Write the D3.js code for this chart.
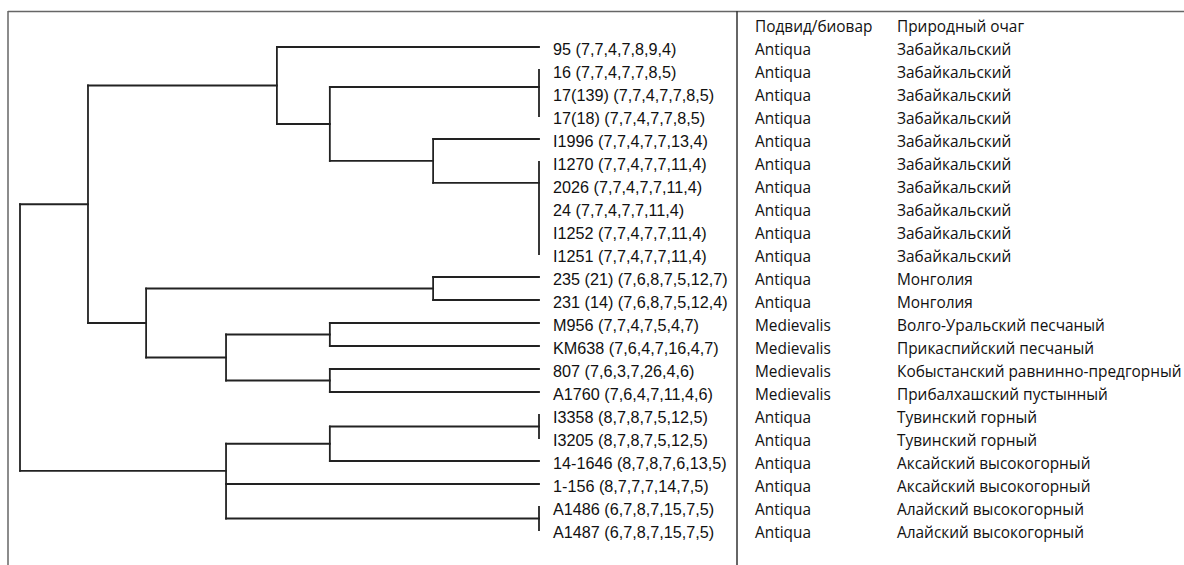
<!DOCTYPE html>
<html>
<head>
<meta charset="utf-8">
<script src="https://cdn.jsdelivr.net/npm/d3@7/dist/d3.min.js"></script>
<style>
html,body{margin:0;padding:0;background:#fff;}
svg{display:block;}
</style>
</head>
<body>
<svg id="chart" width="1184" height="565"></svg>
<script>
// ---------- DATA ----------
const rowLabels = [
  "95 (7,7,4,7,8,9,4)", "16 (7,7,4,7,7,8,5)", "17(139) (7,7,4,7,7,8,5)", "17(18) (7,7,4,7,7,8,5)",
  "I1996 (7,7,4,7,7,13,4)", "I1270 (7,7,4,7,7,11,4)", "2026 (7,7,4,7,7,11,4)", "24 (7,7,4,7,7,11,4)",
  "I1252 (7,7,4,7,7,11,4)", "I1251 (7,7,4,7,7,11,4)", "235 (21) (7,6,8,7,5,12,7)", "231 (14) (7,6,8,7,5,12,4)",
  "M956 (7,7,4,7,5,4,7)", "KM638 (7,6,4,7,16,4,7)", "807 (7,6,3,7,26,4,6)", "A1760 (7,6,4,7,11,4,6)",
  "I3358 (8,7,8,7,5,12,5)", "I3205 (8,7,8,7,5,12,5)", "14-1646 (8,7,8,7,6,13,5)", "1-156 (8,7,7,7,14,7,5)",
  "A1486 (6,7,8,7,15,7,5)", "A1487 (6,7,8,7,15,7,5)"
];
const subspecies = [
  "Antiqua","Antiqua","Antiqua","Antiqua","Antiqua","Antiqua","Antiqua","Antiqua","Antiqua","Antiqua",
  "Antiqua","Antiqua","Medievalis","Medievalis","Medievalis","Medievalis",
  "Antiqua","Antiqua","Antiqua","Antiqua","Antiqua","Antiqua"
];
const foci = [
  "Забайкальский","Забайкальский","Забайкальский","Забайкальский","Забайкальский",
  "Забайкальский","Забайкальский","Забайкальский","Забайкальский","Забайкальский",
  "Монголия","Монголия",
  "Волго-Уральский песчаный","Прикаспийский песчаный","Кобыстанский равнинно-предгорный","Прибалхашский пустынный",
  "Тувинский горный","Тувинский горный","Аксайский высокогорный","Аксайский высокогорный",
  "Алайский высокогорный","Алайский высокогорный"
];
const columnHeaders = ["Подвид/биовар", "Природный очаг"];

// groups of identical leaves (row ranges) and the row position where the branch attaches
const leafGroups = [
  {id:"g16",   rows:[1,3],   at:1.74},
  {id:"g1270", rows:[5,9],   at:5.91},
  {id:"g3358", rows:[16,17], at:16.5},
  {id:"g1486", rows:[20,21], at:20.5}
];
// internal nodes: relative linkage distance and children (rN = single leaf row N)
const clusters = [
  {id:"root", h:1.000, kids:["A","B"]},
  {id:"A",    h:0.869, kids:["A1","A2"]},
  {id:"A1",   h:0.505, kids:["r0","A1b"]},
  {id:"A1b",  h:0.403, kids:["g16","A1c"]},
  {id:"A1c",  h:0.204, kids:["r4","g1270"]},
  {id:"A2",   h:0.757, kids:["Mon","Med"]},
  {id:"Mon",  h:0.204, kids:["r10","r11"]},
  {id:"Med",  h:0.603, kids:["Med1","Med2"]},
  {id:"Med1", h:0.403, kids:["r12","r13"]},
  {id:"Med2", h:0.403, kids:["r14","r15"]},
  {id:"B",    h:0.603, kids:["B1","r19","g1486"], at:18.43},
  {id:"B1",   h:0.403, kids:["g3358","r18"]}
];

// ---------- LAYOUT ----------
const svg = d3.select("#chart");
const x = d3.scaleLinear().domain([0, 1]).range([539, 20]);
const y = d3.scaleLinear().domain([0, 1]).range([47, 70]); // row index -> px

const lineColor = "#222";
const lw = 1.8;

const byId = new Map(clusters.map(c => [c.id, c]));
const groupById = new Map(leafGroups.map(g => [g.id, g]));

function attach(id) {
  if (id.startsWith("r")) return +id.slice(1);
  if (groupById.has(id)) return groupById.get(id).at;
  const c = byId.get(id);
  if (c.at !== undefined) return c.at;
  const ys = c.kids.map(attach);
  return (d3.min(ys) + d3.max(ys)) / 2;
}
function height(id) {
  if (id.startsWith("r") || groupById.has(id)) return 0;
  return byId.get(id).h;
}

const g = svg.append("g").attr("fill", "none").attr("stroke", lineColor)
  .attr("stroke-width", lw).attr("stroke-linecap", "square");

clusters.forEach(c => {
  const ys = c.kids.map(attach);
  g.append("line").attr("x1", x(c.h)).attr("x2", x(c.h))
    .attr("y1", y(d3.min(ys))).attr("y2", y(d3.max(ys)));
  c.kids.forEach(k => {
    g.append("line").attr("x1", x(c.h)).attr("x2", x(height(k)))
      .attr("y1", y(attach(k))).attr("y2", y(attach(k)));
  });
});
leafGroups.forEach(gr => {
  g.append("line").attr("x1", x(0)).attr("x2", x(0))
    .attr("y1", y(gr.rows[0])).attr("y2", y(gr.rows[1]));
});

// frame
svg.append("line").attr("x1", 8).attr("x2", 1184).attr("y1", 11.5).attr("y2", 11.5)
  .attr("stroke", "#666").attr("stroke-width", 1.5);
svg.append("line").attr("x1", 8).attr("x2", 8).attr("y1", 11).attr("y2", 565)
  .attr("stroke", "#666").attr("stroke-width", 1.5);
svg.append("line").attr("x1", 737).attr("x2", 737).attr("y1", 11).attr("y2", 565)
  .attr("stroke", "#333").attr("stroke-width", 1.5);

// leaf labels
svg.append("g").selectAll("text").data(rowLabels).join("text")
  .attr("x", 553).attr("y", (d, i) => y(i) + 2)
  .attr("dominant-baseline", "central")
  .attr("font-family", "'Liberation Sans', Arial, sans-serif")
  .attr("font-size", 16.2).attr("fill", "#111")
  .text(d => d);

const tableFont = "'Open Sans', 'Noto Sans', sans-serif";
const tfs = 15.4;
svg.append("g").selectAll("text").data(columnHeaders).join("text")
  .attr("x", (d, i) => i === 0 ? 755 : 897).attr("y", 26)
  .attr("dominant-baseline", "central")
  .attr("font-family", tableFont).attr("font-size", tfs).attr("fill", "#111")
  .text(d => d);
svg.append("g").selectAll("text").data(subspecies).join("text")
  .attr("x", 755).attr("y", (d, i) => y(i) + 2)
  .attr("dominant-baseline", "central")
  .attr("font-family", tableFont).attr("font-size", tfs).attr("fill", "#111")
  .text(d => d);
svg.append("g").selectAll("text").data(foci).join("text")
  .attr("x", 897).attr("y", (d, i) => y(i) + 2)
  .attr("dominant-baseline", "central")
  .attr("font-family", tableFont).attr("font-size", tfs).attr("fill", "#111")
  .text(d => d);
</script>
</body>
</html>
